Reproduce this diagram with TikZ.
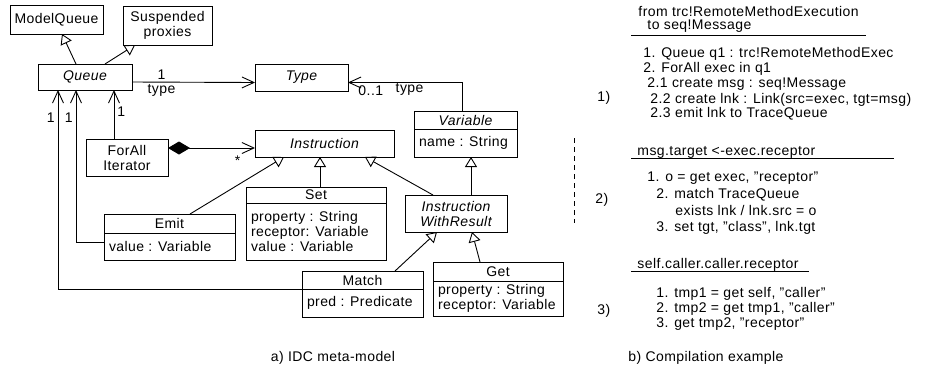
\documentclass[tikz,border=0pt]{standalone}
\usepackage{fontspec}
\setmainfont{Liberation Sans}[LetterSpace=3]
\usepackage{tikz}
\usetikzlibrary{arrows.meta,positioning}
\newcommand{\umlsize}{\fontsize{14}{15}\selectfont}

\begin{document}
\begin{tikzpicture}[x=1pt, y=-1pt, font=\umlsize, line width=0.9pt,
    box/.style={draw, inner sep=0pt, outer sep=0pt, align=center},
    italic/.style={font=\umlsize\itshape},
    abox/.style={box, italic},
    attrs/.style={draw, outer sep=0pt, inner xsep=5pt, inner ysep=0pt, align=flush left,
        text width=#1, execute at begin node={\hyphenpenalty=10000}},
    inherit/.style={-{Triangle[open, length=10pt, width=12pt]}},
    assoc/.style={-{Straight Barb[length=12pt, width=11pt]}},
    compose/.style={{Diamond[length=22pt, width=13pt]}-{Straight Barb[length=12pt, width=11pt]}},
    code/.style={anchor=base west, inner sep=0pt}]
    % Picture bounds (pixels of the reference)
    \useasboundingbox (0,0) rectangle (935,368);

    % a) Classes
    \node[box, minimum width=93pt, minimum height=29pt] (mq) at (56.5,19.5) {ModelQueue};
    \node[box, minimum width=89pt, minimum height=39pt] (susp) at (167.5,25.5) {Suspended\\proxies};
    \node[abox, minimum width=94pt, minimum height=26pt] (queue) at (85,77) {Queue};
    \node[abox, minimum width=93pt, minimum height=27pt] (type) at (301.5,77.5) {Type};
    \node[abox, minimum width=139pt, minimum height=27pt] (instr) at (324.5,143.5) {Instruction};
    \node[box, minimum width=82pt, minimum height=37pt] (forall) at (127,157.5) {ForAll\\Iterator};
    \node[abox, minimum width=102pt, minimum height=37pt] (iwr) at (456,213.5) {Instruction\\WithResult};

    % Classes with attributes (title over attribute part)
    \node[abox, minimum width=103pt, minimum height=18pt] (varT) at (465.5,120) {Variable};
    \node[attrs=93pt, minimum height=28pt, below=0pt of varT] (varA) {name : String};
    \node[box, minimum width=131pt, minimum height=19pt] (emitT) at (169.5,223.5) {Emit};
    \node[attrs=121pt, minimum height=27pt, below=0pt of emitT] (emitA) {value : Variable};
    \node[box, minimum width=140pt, minimum height=16pt] (setT) at (316,195) {Set};
    \node[attrs=130pt, minimum height=57pt, below=0pt of setT] (setA) {property : String\\receptor: Variable\\value : Variable};
    \node[box, minimum width=121pt, minimum height=18pt] (matchT) at (362.5,280) {Match};
    \node[attrs=111pt, minimum height=28pt, below=0pt of matchT] (matchA) {pred : Predicate};
    \node[box, minimum width=130pt, minimum height=19pt] (getT) at (498,271.5) {Get};
    \node[attrs=120pt, minimum height=35pt, below=0pt of getT] (getA) {property : String\\receptor: Variable};

    % Generalisations
    \draw[inherit] ([xshift=-9pt]queue.north) -- ([xshift=5.5pt]mq.south);
    \draw[inherit] ([xshift=20pt]queue.north) -- ([xshift=-32.5pt]susp.south);
    \draw[inherit] ([xshift=20.5pt]emitT.north) -- ([xshift=-40.5pt]instr.south);
    \draw[inherit] ([xshift=4pt]setT.north) -- ([xshift=4pt]setT.north |- instr.south);
    \draw[inherit] ([xshift=-23pt]iwr.north) -- ([xshift=40.5pt]instr.south);
    \draw[inherit] ([xshift=15pt]iwr.north) -- ([xshift=15pt]iwr.north |- varA.south);
    \draw[inherit] ([xshift=32.5pt]matchT.north) -- ([xshift=-19pt]iwr.south);
    \draw[inherit] ([xshift=-18pt]getT.north) -- ([xshift=16pt]iwr.south);

    % Associations
    \draw[assoc] ([yshift=-5pt]queue.east) -- node[above, pos=0.24, inner sep=2pt] {1}
        node[below, pos=0.24, inner sep=2pt] {type} ([yshift=-5pt]type.west);
    \draw[assoc] ([xshift=-3.5pt]varT.north) |- node[below, pos=0.73, inner sep=0pt] {type}
        node[below, pos=0.9, inner sep=3pt] {0..1} ([yshift=-5pt]type.east);
    \draw[assoc] ([xshift=-13pt]forall.north) -- node[right, pos=0.55, inner sep=3pt] {1} ([xshift=29pt]queue.south);
    \draw[assoc] ([yshift=4.5pt]emitA.west) -| node[left, pos=0.91, inner sep=3pt] {1} ([xshift=-9pt]queue.south);
    \draw[assoc] (matchT.south west) -| node[left, pos=0.93, inner sep=3pt] {1} ([xshift=-27pt]queue.south);
    \draw[compose] ([yshift=9.5pt]forall.east) -- node[below=7pt, pos=0.8, inner sep=0pt] {*} ([yshift=-4.5pt]instr.west);

    % Separator
    \draw[line width=0.8pt, dash pattern=on 5pt off 4pt] (574,138) -- (574,223);

    % b) Compilation example 1
    \node[code] (fromA) at (638,16) {from trc!RemoteMethodExecution};
    \node[code] (toA) at (647,29) {to seq!Message};
    \draw (631,35) -- (866,35);
    \foreach \x/\y/\txt [count=\i] in {643/57/{1. Queue q1 : trc!RemoteMethodExec},
        643/72/{2. ForAll exec in q1}, 647/87/{2.1 create msg : seq!Message},
        650/103/{2.2 create lnk : Link(src=exec, tgt=msg)}, 650/117/{2.3 emit lnk to TraceQueue}}
        \node[code] (stepA\i) at (\x,\y) {\txt};
    \node[code] (numA) at (597,101) {1)};

    % Compilation example 2
    \node[code] (fromB) at (637,155) {msg.target <-exec.receptor};
    \draw (631,158) -- (894,158);
    \foreach \x/\y/\txt [count=\i] in {647/181/{1. o = get exec, "receptor"},
        656/198/{2. match TraceQueue}, 675/215/{exists lnk / lnk.src = o},
        656/231/{3. set tgt, "class", lnk.tgt}}
        \node[code] (stepB\i) at (\x,\y) {\txt};
    \node[code] (numB) at (595,203) {2)};

    % Compilation example 3
    \node[code] (fromC) at (637,268) {self.caller.caller.receptor};
    \draw (631,271) -- (809,271);
    \foreach \x/\y/\txt [count=\i] in {656/297/{1. tmp1 = get self, "caller"},
        656/312/{2. tmp2 = get tmp1, "caller"}, 656/327/{3. get tmp2, "receptor"}}
        \node[code] (stepC\i) at (\x,\y) {\txt};
    \node[code] (numC) at (597,314) {3)};

    % Captions
    \node (capA) at (333,358) {a) IDC meta-model};
    \node (capB) at (706,358) {b) Compilation example};
\end{tikzpicture}
\end{document}
